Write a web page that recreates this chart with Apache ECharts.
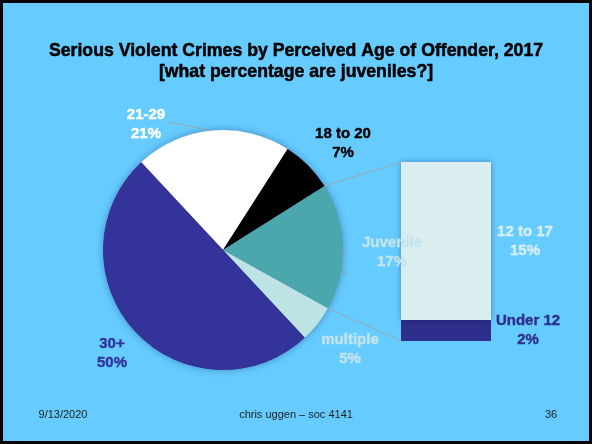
<!DOCTYPE html>
<html>
<head>
<meta charset="utf-8">
<script src="https://cdn.jsdelivr.net/npm/echarts@6/dist/echarts.min.js"></script>
<style>
  html, body { margin: 0; padding: 0; background: #66CCFF; }
  #chart { width: 592px; height: 444px; }
</style>
</head>
<body>
<div id="chart"></div>
<script>
// Share of serious violent crimes by perceived offender age, 2017 (percent)
const ageGroups = ['21-29', '18 to 20', 'Juvenile', 'multiple', '30+'];
const ageShares = [21, 7, 17, 5, 50];

// Breakdown of the juvenile slice (percent of all crimes), bottom to top
const juvenileParts = ['Under 12', '12 to 17'];
const juvenileShares = [2, 15];

const FONT = '"Liberation Sans", Arial, Helvetica, sans-serif';
const PIE_CENTER = [223, 250];
const PIE_RADIUS = 120;
const PIE_START = 133;
const BAR_GRID = { left: 401, top: 162, width: 90, height: 179 };

const sliceColors = ['#FFFFFF', '#000000', '#4AA8AD', '#BDE3E4', '#333399'];
const sliceLabelColors = ['#FFFFFF', '#000000', '#C3E4EB', '#C3E4EB', '#333399'];
// label block centres for the pie slices
const sliceLabelPos = [[146, 124], [343, 143], [392, 252], [350, 349], [112, 353]];

const partColors = ['#2E2E8C', '#DAEEF0'];
const partLabelColors = ['#2E2E8C', '#D6EEF4'];
const partLabelDist = [37, 34];

const juvenileTotal = juvenileShares.reduce((a, b) => a + b, 0);
const ageTotal = ageShares.reduce((a, b) => a + b, 0);

const chart = echarts.init(document.getElementById('chart'), null, { renderer: 'canvas' });

// bold labels with a hairline outline in their own colour for extra weight
function labelStyle(color) {
  return {
    fontFamily: FONT, fontSize: 15, fontWeight: 'bold', lineHeight: 19,
    color: color, textBorderColor: color, textBorderWidth: 0.4
  };
}

chart.setOption({
  backgroundColor: '#66CCFF',
  animation: false,
  title: {
    text: 'Serious Violent Crimes by Perceived Age of Offender, 2017\n[what percentage are juveniles?]',
    left: 'center',
    top: 36,
    textStyle: {
      fontFamily: FONT, fontSize: 17.7, fontWeight: 'bold', lineHeight: 21, color: '#000',
      textBorderColor: '#000', textBorderWidth: 0.5
    }
  },
  grid: { left: BAR_GRID.left, top: BAR_GRID.top, width: BAR_GRID.width, height: BAR_GRID.height },
  xAxis: { type: 'category', data: ['Juvenile'], show: false },
  yAxis: { type: 'value', min: 0, max: juvenileTotal, show: false },
  series: [
    {
      type: 'pie',
      z: 5,
      center: PIE_CENTER,
      radius: PIE_RADIUS,
      startAngle: PIE_START,
      clockwise: true,
      avoidLabelOverlap: false,
      labelLine: { show: false },
      label: { show: true, position: 'outside', formatter: '{b}\n{c}%' },
      labelLayout: function (p) {
        const pos = sliceLabelPos[p.dataIndex];
        return { x: pos[0], y: pos[1], align: 'center', verticalAlign: 'middle' };
      },
      emphasis: { disabled: true },
      data: ageGroups.map((name, i) => ({
        name: name,
        value: ageShares[i],
        itemStyle: { color: sliceColors[i], borderWidth: 0 },
        label: labelStyle(sliceLabelColors[i])
      }))
    }
  ].concat(juvenileParts.map((name, i) => ({
    type: 'bar',
    name: name,
    stack: 'juvenile',
    barWidth: '100%',
    z: 2,
    itemStyle: i === 1
      ? { color: partColors[i], shadowBlur: 6, shadowColor: 'rgba(0,0,60,0.35)' }
      : { color: partColors[i] },
    label: Object.assign({
      show: true,
      position: 'right',
      distance: partLabelDist[i],
      align: 'center',
      formatter: name + '\n{c}%'
    }, labelStyle(partLabelColors[i])),
    emphasis: { disabled: true },
    data: [juvenileShares[i]]
  })))
});

// point on the pie rim at a given cumulative share
function rimPoint(share) {
  const a = (PIE_START - 360 * share / ageTotal) * Math.PI / 180;
  return [PIE_CENTER[0] + PIE_RADIUS * Math.cos(a), PIE_CENTER[1] - PIE_RADIUS * Math.sin(a)];
}
function cumulative(n) {
  return ageShares.slice(0, n).reduce((a, b) => a + b, 0);
}

const juvIdx = ageGroups.indexOf('Juvenile');
const juvStart = rimPoint(cumulative(juvIdx));
const juvEnd = rimPoint(cumulative(juvIdx + 1));
const barCx = chart.convertToPixel({ xAxisIndex: 0 }, 'Juvenile');
const barLeft = barCx - BAR_GRID.width / 2;
const barTop = chart.convertToPixel({ yAxisIndex: 0 }, juvenileTotal);
const barBottom = chart.convertToPixel({ yAxisIndex: 0 }, 0);

const lead2129 = rimPoint(cumulative(0) + ageShares[0] / 2);
const leadJuv = rimPoint(cumulative(juvIdx) + ageShares[juvIdx] / 2);

const lineStyle = { stroke: '#9AA7B0', lineWidth: 1, fill: null };
const footStyle = { fontFamily: FONT, fontSize: 11, fill: '#1E1E1E', align: 'center', verticalAlign: 'middle' };

chart.setOption({
  graphic: [
    { type: 'circle', z: 0, silent: true,
      shape: { cx: PIE_CENTER[0], cy: PIE_CENTER[1], r: PIE_RADIUS - 0.5 },
      style: { fill: '#4a4a80', shadowBlur: 8, shadowColor: 'rgba(0,0,60,0.35)' } },
    { type: 'polyline', z: 10, silent: true,
      shape: { points: [juvStart, [barLeft, barTop]] }, style: lineStyle },
    { type: 'polyline', z: 10, silent: true,
      shape: { points: [juvEnd, [barLeft, barBottom]] }, style: lineStyle },
    { type: 'polyline', z: 10, silent: true,
      shape: { points: [[sliceLabelPos[0][0] + 21, sliceLabelPos[0][1] - 2], lead2129] }, style: lineStyle },
    { type: 'polyline', z: 10, silent: true,
      shape: { points: [[leadJuv[0], leadJuv[1] + 4], [leadJuv[0], leadJuv[1] + 27], [leadJuv[0] + 4, leadJuv[1] + 27]] },
      style: { stroke: '#7FA9B6', lineWidth: 1, fill: null } },
    { type: 'text', z: 10, silent: true, x: 63, y: 415, style: Object.assign({ text: '9/13/2020' }, footStyle) },
    { type: 'text', z: 10, silent: true, x: 296, y: 415, style: Object.assign({ text: 'chris uggen \u2013 soc 4141' }, footStyle) },
    { type: 'text', z: 10, silent: true, x: 551, y: 415, style: Object.assign({ text: '36' }, footStyle) },
    { type: 'rect', z: 20, silent: true,
      shape: { x: 1.5, y: 1.5, width: 589, height: 441 },
      style: { fill: null, stroke: '#000', lineWidth: 3 } }
  ]
});
</script>
</body>
</html>
